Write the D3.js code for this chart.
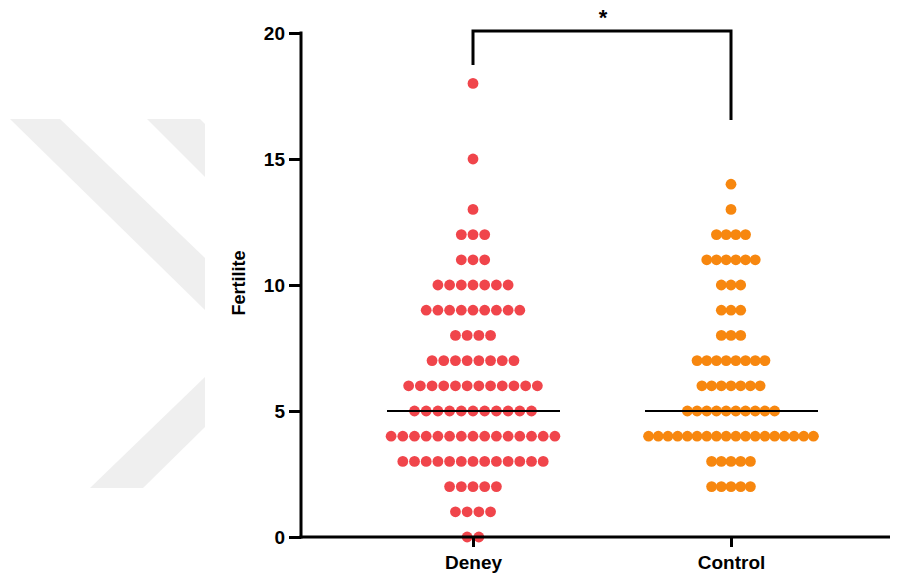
<!DOCTYPE html>
<html>
<head>
<meta charset="utf-8">
<script src="https://cdn.jsdelivr.net/npm/d3@7"></script>
<style>
  body { margin: 0; background: #fff; }
  svg { display: block; font-family: "Liberation Sans", Arial, sans-serif; }
</style>
</head>
<body>
<svg id="chart" width="902" height="581"></svg>
<script>
// valeurs possibles de fertilité (axe y)
var levels = [0,1,2,3,4,5,6,7,8,9,10,11,12,13,14,15,16,17,18];
// nombre de points par valeur, pour chaque groupe
var deneyCounts   = [2,4,5,13,15,11,12,8,4,9,7,3,3,1,0,1,0,0,1];
var controlCounts = [0,0,5,5,18,10,7,8,3,3,3,6,4,1,1,0,0,0,0];
var groups = ['Deney', 'Control'];
var medians = [5, 5];
var yTicks = [0, 5, 10, 15, 20];

var colors = { Deney: '#f0454b', Control: '#f7870f' };
var spacing = { Deney: 11.7, Control: 9.7 };

var svg = d3.select('#chart');

// filigrane gris à gauche
var wm = svg.append('g').attr('fill', '#efefef');
var bands = [
  [[10,119],[60,119],[205,258],[205,310]],
  [[147,119],[200,119],[205,124],[205,177]],
  [[90,488],[143,488],[205,427],[205,377]]
];
bands.forEach(function(b){
  wm.append('path').attr('d', 'M' + b.map(function(p){ return p.join(','); }).join('L') + 'Z');
});

var y = d3.scaleLinear().domain([0, 20]).range([537, 33]);
var x = d3.scalePoint().domain(groups).range([473, 731]);

// points
var points = [];
groups.forEach(function(g){
  var counts = g === 'Deney' ? deneyCounts : controlCounts;
  levels.forEach(function(v, i){
    var n = counts[i];
    for(var k = 0; k < n; k++){
      points.push({ group: g, value: v, off: (k - (n - 1) / 2) * spacing[g] });
    }
  });
});

svg.append('g').selectAll('circle').data(points).join('circle')
  .attr('cx', function(d){ return x(d.group) + d.off; })
  .attr('cy', function(d){ return y(d.value); })
  .attr('r', 5.4)
  .attr('fill', function(d){ return colors[d.group]; });

// médianes
svg.append('g').selectAll('line').data(groups).join('line')
  .attr('x1', function(g){ return x(g) - 86; })
  .attr('x2', function(g){ return x(g) + 87; })
  .attr('y1', function(g, i){ return y(medians[i]); })
  .attr('y2', function(g, i){ return y(medians[i]); })
  .attr('stroke', '#000').attr('stroke-width', 2);

// axe y
var yAxis = svg.append('g').attr('transform', 'translate(301,0)')
  .call(d3.axisLeft(y).tickValues(yTicks).tickSize(12).tickPadding(4));
yAxis.select('.domain').attr('stroke-width', 3).attr('d', 'M0,' + (y(20) - 1.5) + 'V' + (y(0) + 1.5));
yAxis.selectAll('.tick line').attr('stroke-width', 3);
yAxis.selectAll('.tick text').attr('font-size', 19).attr('font-weight', 'bold').attr('fill', '#000')
  .attr('font-family', '"Liberation Sans", Arial, sans-serif');

// axe x
var xAxis = svg.append('g').attr('transform', 'translate(0,537)')
  .call(d3.axisBottom(x).tickSize(10).tickPadding(9));
xAxis.select('.domain').attr('stroke-width', 3).attr('d', 'M299.5,0H890');
xAxis.selectAll('.tick line').attr('stroke-width', 3);
xAxis.selectAll('.tick text').attr('font-size', 19).attr('font-weight', 'bold').attr('fill', '#000')
  .attr('font-family', '"Liberation Sans", Arial, sans-serif');

svg.append('text')
  .attr('transform', 'translate(245,283) rotate(-90)')
  .attr('text-anchor', 'middle')
  .attr('font-size', 18).attr('font-weight', 'bold')
  .text('Fertilite');

// crochet de significativité
svg.append('path')
  .attr('d', 'M' + x('Deney') + ',65V31H' + x('Control') + 'V120')
  .attr('fill', 'none').attr('stroke', '#000').attr('stroke-width', 3);
svg.append('text')
  .attr('x', (x('Deney') + x('Control')) / 2 + 1).attr('y', 25)
  .attr('text-anchor', 'middle').attr('font-size', 22).attr('font-weight', 'bold')
  .text('*');
</script>
</body>
</html>
